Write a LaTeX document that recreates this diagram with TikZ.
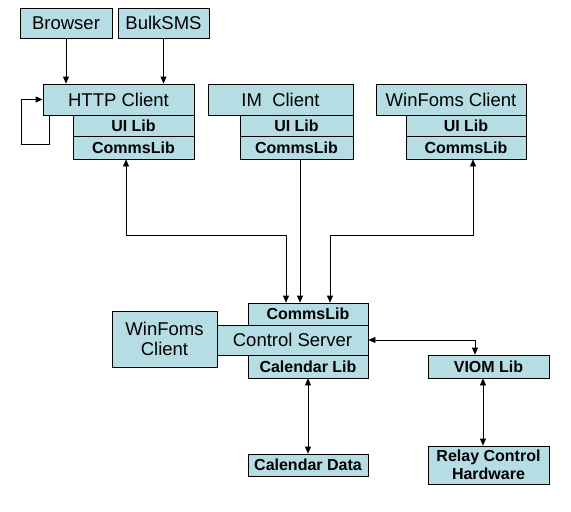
\documentclass[tikz,border=0pt]{standalone}
\usepackage{fontspec}
\setmainfont{Liberation Sans}
\usepackage{xcolor}
\usetikzlibrary{arrows.meta}
\definecolor{boxfill}{RGB}{183,221,228}

\tikzset{
  blk/.style={draw, fill=boxfill, line width=0.8pt, inner sep=0pt, align=center},
  big/.style={blk, font=\fontsize{18.5}{20}\selectfont},
  lib/.style={blk, font=\fontsize{16}{17.5}\selectfont\bfseries},
  conn/.style={line width=0.8pt}
}

\begin{document}
\begin{tikzpicture}[x=1pt,y=-1pt,>={Triangle[length=7pt,width=6pt]}]
  \useasboundingbox (0,0) rectangle (571,512);
  % top sources
  \node[big, minimum width=92, minimum height=30] (browser) at (66,23) {Browser};
  \node[big, minimum width=91, minimum height=30] (bulksms) at (163.5,23) {BulkSMS};
  % clients
  \node[big, minimum width=151, minimum height=31] (http) at (118.5,99.5) {HTTP Client};
  \node[lib, minimum width=121, minimum height=21] (httpui) at (133.5,125.5) {UI Lib};
  \node[lib, minimum width=121, minimum height=23] (httpcomms) at (133.5,147.5) {CommsLib};
  \node[big, minimum width=145, minimum height=31] (im) at (280.5,99.5) {IM\ \ Client};
  \node[lib, minimum width=113, minimum height=21] (imui) at (296.5,125.5) {UI Lib};
  \node[lib, minimum width=113, minimum height=23] (imcomms) at (296.5,147.5) {CommsLib};
  \node[big, minimum width=150, minimum height=31] (wf) at (451,99.5) {WinFoms Client};
  \node[lib, minimum width=120, minimum height=21] (wfui) at (466,125.5) {UI Lib};
  \node[lib, minimum width=120, minimum height=23] (wfcomms) at (466,147.5) {CommsLib};
  % server
  \node[big, minimum width=105, minimum height=56] (wfleft) at (164.5,339) {WinFoms\\Client};
  \node[lib, minimum width=120, minimum height=22] (srvcomms) at (308,314) {CommsLib};
  \node[big, minimum width=151, minimum height=30] (server) at (292.5,340) {Control Server};
  \node[lib, minimum width=120, minimum height=23] (srvcal) at (308,366.5) {Calendar Lib};
  \node[lib, minimum width=120, minimum height=22] (caldata) at (308,465) {Calendar Data};
  \node[lib, minimum width=121, minimum height=23] (viom) at (488.5,366.5) {VIOM Lib};
  \node[lib, minimum width=121, minimum height=38] (relay) at (488.5,465) {Relay Control\\Hardware};
  \coordinate (bus) at (0,235);
  \coordinate (loop) at (21,144);

  \draw[conn,->] (browser) -- (browser |- http.north);
  \draw[conn,->] (bulksms) -- (bulksms |- http.north);
  \draw[conn,->] ([xshift=7pt]http.south west) |- (loop) |- (http.west);
  \draw[conn,<->] ([xshift=-7.5pt]httpcomms.south) -- ([xshift=-7.5pt]httpcomms.south |- bus)
    -| ([xshift=-22pt]srvcomms.north);
  \draw[conn,->] ([xshift=-8pt]srvcomms.north |- imcomms.south) -- ([xshift=-8pt]srvcomms.north);
  \draw[conn,<->] ([xshift=7pt]wfcomms.south) -- ([xshift=7pt]wfcomms.south |- bus)
    -| ([xshift=22pt]srvcomms.north);
  \draw[conn,<->] (server.east) -| ([xshift=-13.5pt]viom.north);
  \draw[conn,<->] ([xshift=-5.5pt]viom.south) -- ([xshift=-5.5pt]relay.north);
  \draw[conn,<->] (srvcal) -- (caldata);
\end{tikzpicture}
\end{document}
